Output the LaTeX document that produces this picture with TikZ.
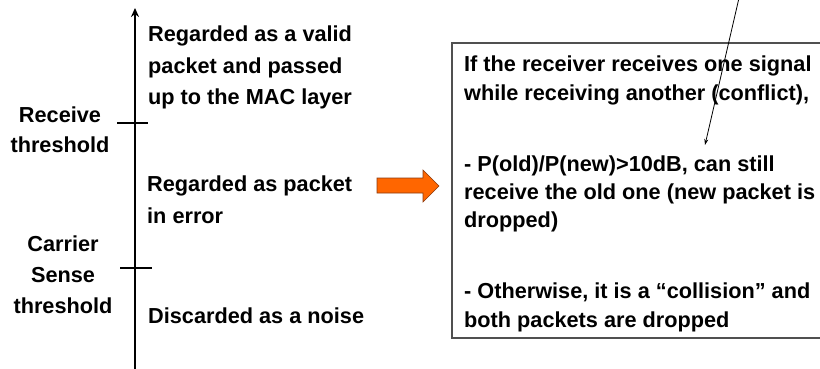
\documentclass[tikz,border=0pt]{standalone}
\usepackage{fontspec}
\setmainfont{Liberation Sans}
\usepackage{xcolor}
\usepackage{tikz}
\usetikzlibrary{shapes,positioning,arrows.meta}

\definecolor{arroworange}{HTML}{FF6600}
\definecolor{arrowedge}{HTML}{8A3A10}
\definecolor{boxgray}{HTML}{505050}

\begin{document}
\begin{tikzpicture}[
  x=1pt,y=-1pt,
  level/.style={font=\bfseries\fontsize{21.7}{32}\selectfont,align=left,anchor=base west,inner sep=0pt},
  thres/.style={font=\bfseries\fontsize{21.7}{31}\selectfont,align=center,anchor=base,inner sep=0pt},
  info/.style={font=\bfseries\fontsize{21.7}{28.4}\selectfont,align=left,anchor=base west,inner sep=0pt},
  infobox/.style={rectangle,draw=boxgray,line width=1.2pt,minimum width=370pt,minimum height=295pt,inner sep=0pt},
  tick/.style={line width=2pt},
]
\useasboundingbox (0,0) rectangle (820,369);

\coordinate (axisbot) at (135,369);
\coordinate (axistop) at (135,8);
\draw[line width=2pt,-{Stealth[length=9pt,width=8pt]}] (axisbot) -- (axistop);
\draw[tick] (117,123) -- (148,123);
\draw[tick] (120,268) -- (152,268);

\node [thres] (recv) at (60,153) {Receive\\threshold};
\node [thres] (cs) at (63,313) {Carrier\\Sense\\threshold};

\node [level] (valid) at (148,105) {Regarded as a valid\\packet and passed\\up to the MAC layer};
\node [level] (error) at (147,223) {Regarded as packet\\in error};
\node [level] (noise) at (148,323) {Discarded as a noise};

\draw[fill=arroworange,draw=arrowedge,line width=0.6pt]
  (377,178) -- (423,178) -- (423,170) -- (439,186) -- (423,202) -- (423,193) -- (377,193) -- cycle;

\node [infobox] (box) at (637,190.5) {};
\node [info] (rules) at (464,327) {If the receiver receives one signal\\while receiving another (conflict),\\[42.4pt]
  - P(old)/P(new)>10dB, can still\\receive the old one (new packet is\\dropped)\\[42.4pt]
  - Otherwise, it is a “collision” and\\both packets are dropped};

\coordinate (note) at (739,-2);
\coordinate (target) at (705,145);
\draw[line width=0.8pt,-{Stealth[length=6pt,width=4pt]}] (note) -- (target);
\end{tikzpicture}
\end{document}
